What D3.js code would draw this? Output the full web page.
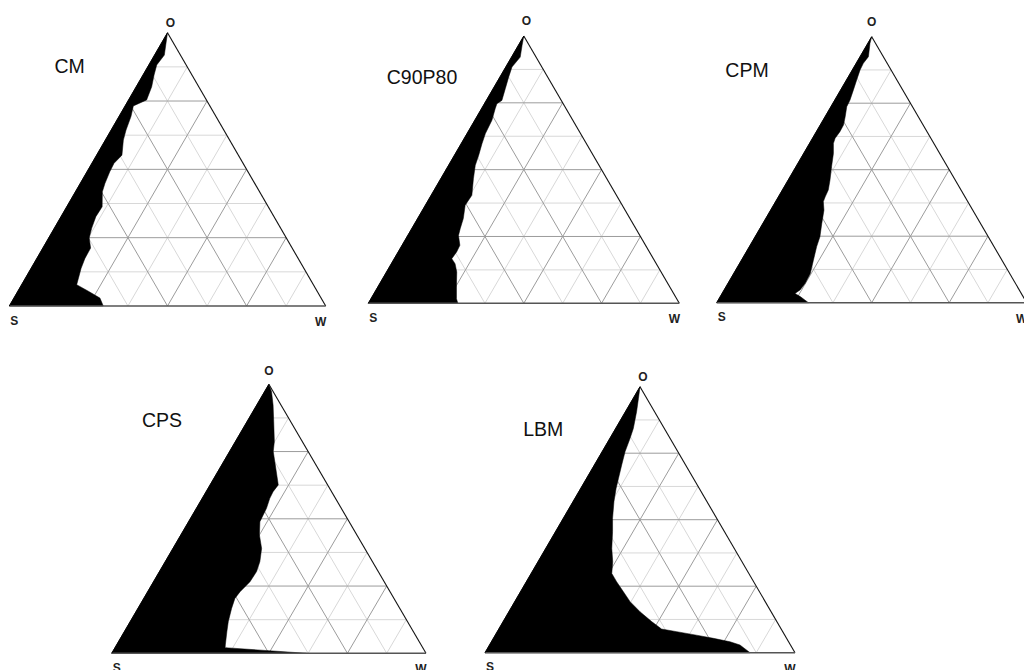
<!DOCTYPE html>
<html lang="en">
<head>
<meta charset="UTF-8">
<title>Ternary diagrams</title>
<script src="https://d3js.org/d3.v7.min.js"></script>
<style>
    body { margin: 0; background: white; }
    svg { display: block; font-family: "Liberation Sans", Arial, sans-serif; }
    .grid-major { stroke: #9c9c9c; stroke-width: 1px; }
    .grid-minor { stroke: #d8d8d8; stroke-width: 1px; }
    .title { font-size: 19.5px; fill: #111; }
    .vertex { font-size: 12px; font-weight: bold; fill: #222; }
</style>
</head>
<body>
<svg id="canvas" width="1024" height="670"></svg>
<script>
    // boundary of the black region as [O fraction, W fraction], apex first, ending on the S-W base
    let cmBoundary = [[1,0],[0.955,0.017],[0.918,0.031],[0.882,0.025],[0.845,0.035],[0.802,0.049],[0.754,0.057],
        [0.732,0.026],[0.693,0.038],[0.644,0.047],[0.607,0.057],[0.552,0.080],[0.522,0.070],[0.491,0.072],
        [0.449,0.078],[0.418,0.085],[0.363,0.112],[0.327,0.110],[0.285,0.118],[0.249,0.128],[0.212,0.151],
        [0.174,0.152],[0.138,0.158],[0.078,0.174],[0.054,0.223],[0.029,0.272],[0,0.297]];
    let c90p80Boundary = [[1,0],[0.965,0.012],[0.921,0.028],[0.884,0.020],[0.847,0.028],[0.803,0.039],[0.759,0.050],
        [0.747,0.040],[0.728,0.044],[0.685,0.055],[0.635,0.059],[0.597,0.067],[0.554,0.078],[0.516,0.086],
        [0.466,0.105],[0.404,0.131],[0.367,0.128],[0.317,0.147],[0.279,0.156],[0.254,0.163],[0.217,0.186],
        [0.192,0.188],[0.167,0.185],[0.148,0.205],[0.117,0.226],[0.067,0.250],[0.017,0.275],[0,0.288]];
    let cpmBoundary = [[1,0],[0.975,0.007],[0.925,0.027],[0.900,0.023],[0.875,0.025],[0.837,0.033],[0.800,0.041],
        [0.762,0.049],[0.737,0.051],[0.699,0.065],[0.668,0.075],[0.643,0.076],[0.618,0.073],[0.599,0.077],
        [0.561,0.096],[0.511,0.115],[0.461,0.135],[0.424,0.148],[0.398,0.151],[0.380,0.154],[0.348,0.172],
        [0.298,0.190],[0.248,0.209],[0.211,0.217],[0.160,0.232],[0.110,0.247],[0.073,0.249],[0.048,0.245],
        [0.035,0.235],[0.023,0.258],[0,0.296]];
    let cpsBoundary = [[1,0],[0.973,0.022],[0.923,0.052],[0.861,0.085],[0.787,0.124],[0.750,0.139],[0.712,0.163],
        [0.626,0.217],[0.601,0.213],[0.576,0.215],[0.539,0.223],[0.514,0.225],[0.489,0.227],[0.440,0.250],
        [0.390,0.282],[0.341,0.301],[0.304,0.309],[0.266,0.307],[0.229,0.294],[0.204,0.290],[0.167,0.298],
        [0.118,0.312],[0.081,0.326],[0.021,0.350],[0,0.620]];
    let lbmBoundary = [[1,0],[0.956,0.017],[0.906,0.036],[0.843,0.057],[0.806,0.065],[0.756,0.074],[0.706,0.088],
        [0.655,0.103],[0.618,0.114],[0.568,0.132],[0.505,0.159],[0.455,0.184],[0.392,0.213],[0.342,0.241],
        [0.298,0.260],[0.267,0.291],[0.229,0.332],[0.192,0.372],[0.154,0.423],[0.117,0.479],[0.089,0.525],
        [0.079,0.579],[0.066,0.649],[0.054,0.710],[0.041,0.770],[0.029,0.808],[0,0.855]];

    let panelNames = ["CM", "C90P80", "CPM", "CPS", "LBM"];
    let boundaries = [cmBoundary, c90p80Boundary, cpmBoundary, cpsBoundary, lbmBoundary];
    let vertexNames = ["O", "S", "W"];
    let gridTicks = [0.125, 0.25, 0.375, 0.5, 0.625, 0.75, 0.875];

    // where each triangle sits on the page: S corner, base width, height, title centre, O label shift
    let layout = [
        {x: 9.3,   y: 306,   w: 316.4, h: 273.3, tx: 69.7,  ty: 65.8,  ox: 3,   oy: -6},
        {x: 368.3, y: 303.3, w: 311,   h: 267.3, tx: 422,   ty: 76.7,  ox: 2.5, oy: -11},
        {x: 716.7, y: 302.7, w: 310,   h: 266,   tx: 747,   ty: 70,    ox: 0,   oy: -11},
        {x: 111.7, y: 653.3, w: 314.3, h: 269,   tx: 162,   ty: 420,   ox: 0,   oy: -9.5},
        {x: 485,   y: 652.7, w: 310,   h: 266,   tx: 543.3, ty: 428.7, ox: 3,   oy: -6}
    ];

    let svg = d3.select('#canvas');

    panelNames.forEach(function(name, i){
        let L = layout[i];
        let xs = d3.scaleLinear().domain([0, 1]).range([L.x, L.x + L.w]);
        let ys = d3.scaleLinear().domain([0, 1]).range([L.y, L.y - L.h]);
        // ternary (o, w) -> page
        let pt = (o, w) => [xs(w + o / 2), ys(o)];
        let line = d3.line();
        let g = svg.append('g');

        // grid: constant O, constant W, constant S
        let gridLines = [];
        gridTicks.forEach(function(t, k){
            let major = (k % 2 === 1);
            gridLines.push({major: major, p: [pt(t, 0), pt(t, 1 - t)]});
            gridLines.push({major: major, p: [pt(0, t), pt(1 - t, t)]});
            gridLines.push({major: major, p: [pt(0, 1 - t), pt(1 - t, 0)]});
        });
        gridLines.sort((a, b) => a.major - b.major);
        g.selectAll('path.grid')
            .data(gridLines)
            .enter()
            .append('path')
            .attr('class', d => d.major ? 'grid grid-major' : 'grid grid-minor')
            .attr('fill', 'none')
            .attr('d', d => line(d.p));

        // black region between the S-O edge and the boundary
        let poly = boundaries[i].map(d => pt(d[0], d[1]));
        poly.push(pt(0, 0));
        g.append('path')
            .attr('d', line(poly) + 'Z')
            .attr('fill', 'black')
            .attr('stroke', 'black')
            .attr('stroke-width', 0.5);

        // outline
        g.append('path')
            .attr('d', line([pt(1, 0), pt(0, 1)]))
            .attr('stroke', '#111').attr('stroke-width', 1.1).attr('fill', 'none');
        g.append('path')
            .attr('d', line([pt(0, 0), pt(0, 1)]))
            .attr('stroke', '#555').attr('stroke-width', 1.4).attr('fill', 'none');
        g.append('path')
            .attr('d', line([pt(0, 0), pt(1, 0)]))
            .attr('stroke', 'black').attr('stroke-width', 1).attr('fill', 'none');

        // corner labels
        let corners = [
            {t: vertexNames[0], p: pt(1, 0), dx: L.ox, dy: L.oy},
            {t: vertexNames[1], p: pt(0, 0), dx: 5, dy: 18.5},
            {t: vertexNames[2], p: pt(0, 1), dx: -5, dy: 20}
        ];
        g.selectAll('text.vertex')
            .data(corners)
            .enter()
            .append('text')
            .attr('class', 'vertex')
            .attr('text-anchor', 'middle')
            .attr('x', d => d.p[0] + d.dx)
            .attr('y', d => d.p[1] + d.dy)
            .text(d => d.t);

        g.append('text')
            .attr('class', 'title')
            .attr('text-anchor', 'middle')
            .attr('x', L.tx)
            .attr('y', L.ty + 7)
            .text(name);
    });
</script>
</body>
</html>
